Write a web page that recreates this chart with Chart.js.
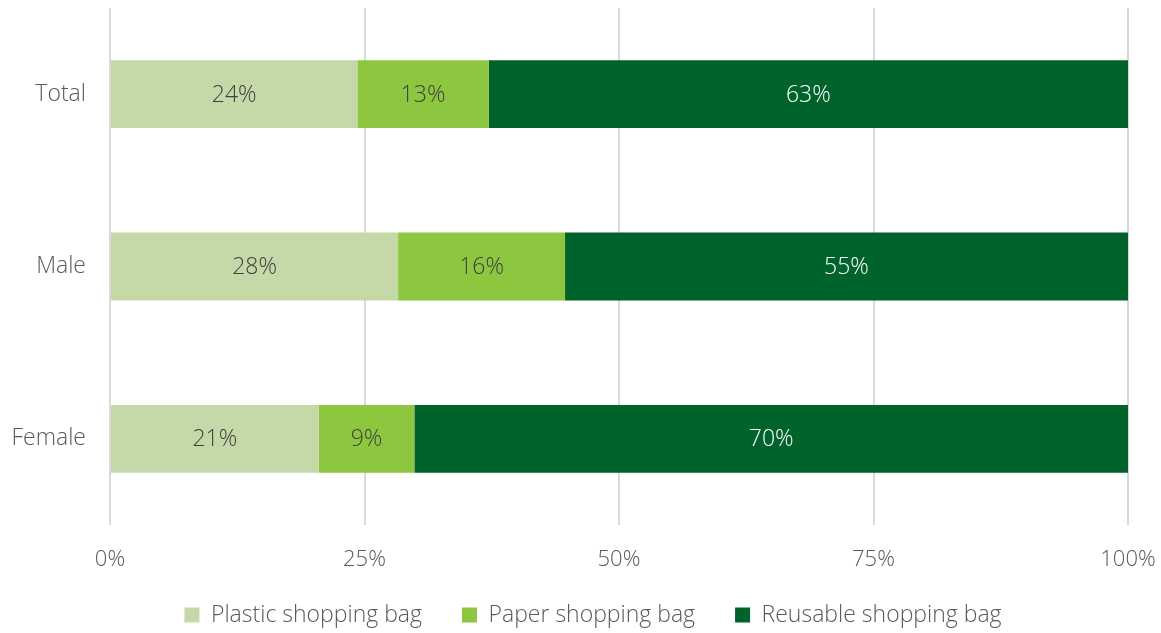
<!DOCTYPE html>
<html>
<head>
<meta charset="utf-8">
<script src="https://cdn.jsdelivr.net/npm/chart.js@4.4.1/dist/chart.umd.min.js"></script>
<style>
  html, body { margin: 0; padding: 0; background: #ffffff; }
  #wrap { width: 1161px; height: 633px; position: relative; }
</style>
</head>
<body>
<div id="wrap"><canvas id="c" width="1161" height="633"></canvas></div>
<script>
const categories = ["Total", "Male", "Female"];
const seriesNames = ["Plastic shopping bag", "Paper shopping bag", "Reusable shopping bag"];
const plastic = [24.3, 28.3, 20.5];
const paper = [12.9, 16.4, 9.4];
const reusable = [62.8, 55.3, 70.1];
const xTicks = [0, 25, 50, 75, 100];

const colors = ["#C5D8A7", "#8DC63F", "#00632B"];
const labelColors = ["#404040", "#404040", "#ffffff"];
const FONT = "'Open Sans', 'Noto Sans', sans-serif";

const dataLabelPlugin = {
  id: 'dataLabels',
  afterDatasetsDraw(chart) {
    const ctx = chart.ctx;
    ctx.save();
    ctx.font = "300 23px " + FONT;
    ctx.textAlign = 'center';
    ctx.textBaseline = 'middle';
    chart.data.datasets.forEach((ds, di) => {
      const meta = chart.getDatasetMeta(di);
      meta.data.forEach((bar, i) => {
        const v = ds.data[i];
        const cx = (bar.x + bar.base) / 2;
        ctx.fillStyle = labelColors[di];
        ctx.fillText(Math.round(v) + "%", cx, bar.y + 1);
      });
    });
    ctx.restore();
  }
};

new Chart(document.getElementById('c'), {
  type: 'bar',
  data: {
    labels: categories,
    datasets: [
      { label: seriesNames[0], data: plastic, backgroundColor: colors[0] },
      { label: seriesNames[1], data: paper, backgroundColor: colors[1] },
      { label: seriesNames[2], data: reusable, backgroundColor: colors[2] }
    ]
  },
  options: {
    indexAxis: 'y',
    responsive: false,
    animation: false,
    layout: { padding: { top: 8, right: -25, left: 0, bottom: -3.5 } },
    datasets: { bar: { categoryPercentage: 1, barPercentage: 0.394, borderWidth: 0 } },
    scales: {
      x: {
        stacked: true,
        min: 0, max: 100,
        afterBuildTicks(axis) { axis.ticks = xTicks.map(v => ({ value: v })); },
        afterFit(axis) {
          axis.height = 38.5; axis.paddingLeft = 0; axis.paddingRight = 0;
          axis._computeLabelArea = function () { return undefined; };
        },
        border: { display: false },
        grid: { color: '#d9d9d9', lineWidth: 2, drawTicks: false },
        ticks: {
          padding: 22,
          color: '#595959',
          font: { family: FONT, size: 22, weight: 300 },
          callback: v => v + '%'
        }
      },
      y: {
        stacked: true,
        afterFit(axis) { axis.width = 110; axis.paddingTop = 0; axis.paddingBottom = 0; },
        border: { display: false },
        grid: { display: false, drawTicks: false },
        ticks: {
          padding: 24,
          color: '#595959',
          font: { family: FONT, size: 23, weight: 300 }
        }
      },
      y2: {
        type: 'category',
        position: 'right',
        afterFit(axis) { axis.width = 58; axis.paddingTop = 0; axis.paddingBottom = 0; },
        border: { display: false },
        grid: { display: false, drawTicks: false },
        ticks: { display: false }
      }
    },
    plugins: {
      legend: {
        position: 'bottom',
        labels: {
          boxWidth: 15, boxHeight: 15,
          padding: 40,
          color: '#595959',
          font: { family: FONT, size: 23, weight: 300 }
        }
      },
      tooltip: { enabled: false }
    }
  },
  plugins: [dataLabelPlugin]
});
</script>
</body>
</html>
